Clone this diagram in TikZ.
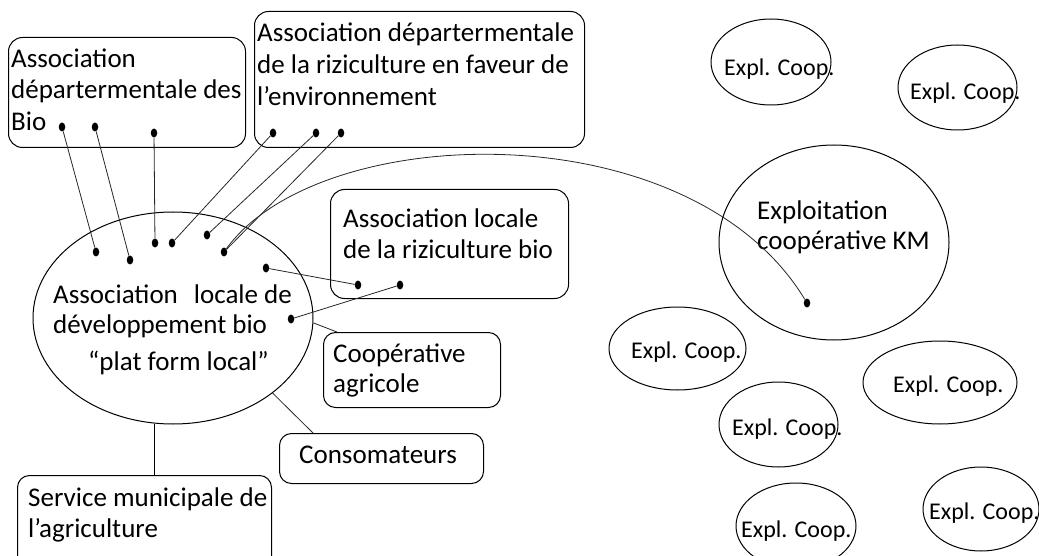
\documentclass[tikz,border=0pt]{standalone}
\usepackage{fontspec}
\setmainfont{Carlito}
\usetikzlibrary{shapes.geometric}
\begin{document}
\begin{tikzpicture}[x=1pt,y=-1pt,
  box/.style={draw=black, line width=1pt, rounded corners=14pt, inner sep=0pt, anchor=north west},
  txt/.style={font=\fontsize{27}{32}\selectfont, inner sep=0pt, align=left, anchor=north west},
  linetxt/.style={font=\fontsize{27}{32}\selectfont, inner sep=0pt, anchor=base west},
  oval/.style={draw=black, line width=1pt, ellipse, inner sep=0pt},
  expltxt/.style={font=\fontsize{24}{28}\selectfont, inner sep=0pt, anchor=base west},
  dot/.style={fill=black, ellipse, minimum width=6.5pt, minimum height=9pt, inner sep=0pt},
  link/.style={draw=black!85, line width=0.8pt},
]
\useasboundingbox (0,0) rectangle (1039,556);
\clip (0,0) rectangle (1039,556);

% rounded boxes
\node[box, minimum width=237pt, minimum height=110pt] (depbio) at (8,37) {};
\node[txt, font=\fontsize{27}{31.5}\selectfont] (depbiot) at (11,45) {\strut Association\\\strut départermentale des\\\strut Bio};

\node[box, minimum width=330pt, minimum height=136pt] (depriz) at (254,11) {};
\node[txt] (depriztx) at (257,18.6) {\strut Association départermentale\\\strut de la riziculture en faveur de\\\strut l’environnement};

\node[box, minimum width=238pt, minimum height=109pt] (locriz) at (330,189) {};
\node[txt, font=\fontsize{27}{31}\selectfont] (locriztx) at (343,205.3) {\strut Association locale\\\strut de la riziculture bio};

\node[box, rounded corners=12pt, minimum width=177pt, minimum height=75pt] (coop) at (323,332) {};
\node[txt, font=\fontsize{27}{30}\selectfont] (cooptx) at (333,341) {\strut Coopérative\\\strut agricole};

\node[box, rounded corners=12pt, minimum width=204pt, minimum height=50pt] (cons) at (279,433) {};
\node[linetxt] (constx) at (299,463) {Consomateurs};

\node[box, rounded corners=12pt, minimum width=254pt, minimum height=100pt] (svc) at (17,475) {};
\node[txt, font=\fontsize{27}{31}\selectfont] (svctx) at (28,484.3) {\strut Service municipale de\\\strut l’agriculture};

% local platform
\node[oval, minimum width=280pt, minimum height=212pt] (E) at (173,318) {};
\node[txt, font=\fontsize{27}{30}\selectfont] (Etx) at (53,282) {\strut Association\hspace{16pt}locale de\\\strut développement bio};
\node[linetxt] (Etx2) at (88,370) {“plat form local”};

% cooperative farms
\node[oval, minimum width=230pt, minimum height=195pt] (km) at (834,242.5) {};
\node[txt, font=\fontsize{27}{30}\selectfont] (kmtx) at (757,198) {\strut Exploitation\\\strut coopérative KM};

\node[oval, minimum width=120pt, minimum height=86pt] (x1) at (771,62) {};
\node[expltxt] (x1t) at (724,76) {Expl. Coop.};
\node[oval, minimum width=119pt, minimum height=85pt] (x2) at (957.5,87.5) {};
\node[expltxt] (x2t) at (910,100) {Expl. Coop.};
\node[oval, minimum width=137pt, minimum height=83pt] (x4) at (677.5,348.5) {};
\node[expltxt] (x4t) at (631,358) {Expl. Coop.};
\node[oval, minimum width=154pt, minimum height=83pt] (x5) at (940,382.5) {};
\node[expltxt] (x5t) at (893,392) {Expl. Coop.};
\node[oval, minimum width=119pt, minimum height=85pt] (x6) at (778.5,424.5) {};
\node[expltxt] (x6t) at (732,435) {Expl. Coop.};
\node[oval, minimum width=120pt, minimum height=86pt] (x7) at (796,526) {};
\node[expltxt] (x7t) at (741,537) {Expl. Coop.};
\node[oval, minimum width=116pt, minimum height=84pt] (x8) at (981,509) {};
\node[expltxt] (x8t) at (929,519) {Expl. Coop.};

% link points
\node[dot] (a1) at (62,127) {};
\node[dot] (a2) at (95,127) {};
\node[dot] (a3) at (154,133) {};
\node[dot] (b1) at (273,133) {};
\node[dot] (b2) at (316,133) {};
\node[dot] (b3) at (341,133) {};
\node[dot] (e1) at (96,252) {};
\node[dot] (e2) at (130,260) {};
\node[dot] (e3) at (155,243) {};
\node[dot] (e4) at (172,243) {};
\node[dot] (e5) at (207,235) {};
\node[dot] (e6) at (224,252) {};
\node[dot] (e7) at (266,268) {};
\node[dot] (e8) at (291,319) {};
\node[dot] (c1) at (358,285) {};
\node[dot] (c2) at (400,285) {};
\node[dot] (k1) at (807,303) {};

% connectors
\draw[link] (a1) -- (e1);
\draw[link] (a2) -- (e2);
\draw[link] (a3) -- (e3);
\draw[link] (b1) -- (e4);
\draw[link] (b2) -- (e5);
\draw[link] (b3) -- (e6);
\draw[link] (e7) -- (c1);
\draw[link] (e8) -- (c2);
\draw[link] (e6) .. controls (320,120) and (690,110) .. (k1);
\draw[link] (E.-2.5) -- ([xshift=14pt]coop.north west);
\draw[link] (E.-37.3) -- ([xshift=34pt]cons.north west);
\draw[line width=1.6pt] (E.-100.8) -- (E.-100.8 |- svc.north);
\end{tikzpicture}
\end{document}
